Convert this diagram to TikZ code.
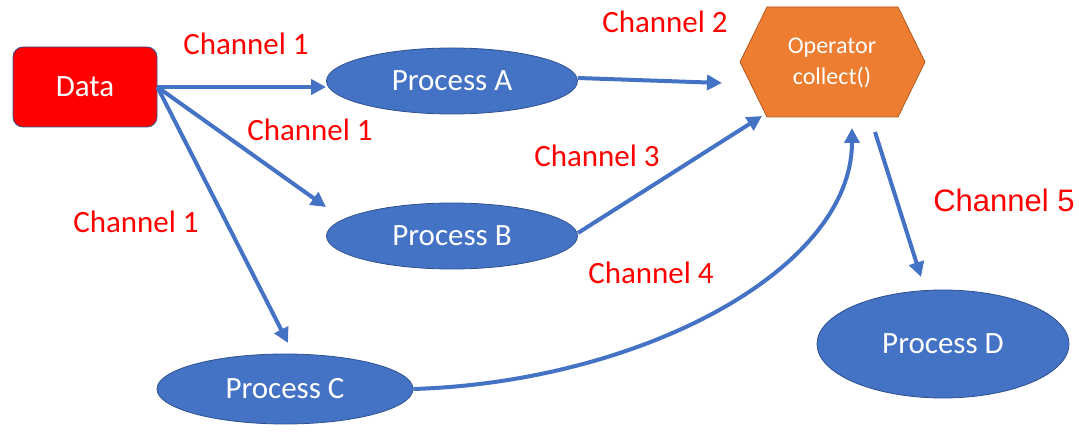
\documentclass[tikz,border=0pt]{standalone}
\usepackage{fontspec}
\setmainfont{Carlito}
\newfontfamily\arialfont{Liberation Sans}
\usetikzlibrary{arrows.meta,shapes.geometric}
\definecolor{flowblue}{HTML}{4472C4}
\definecolor{edgeblue}{HTML}{2F528F}
\definecolor{oporange}{HTML}{ED7D31}
\definecolor{opedge}{HTML}{AE5A21}
\tikzset{
  procnode/.style={ellipse, fill=flowblue, draw=edgeblue, line width=0.8pt,
    minimum width=251pt, minimum height=66pt, inner sep=0pt,
    text=white, font=\fontsize{31}{36}\selectfont},
  flow/.style={draw=flowblue, line width=4pt,
    -{Triangle[length=15pt,width=15pt]}},
  chanlabel/.style={text=red, font=\fontsize{31}{36}\selectfont, inner sep=0pt},
}
\begin{document}
\begin{tikzpicture}[x=1pt,y=-1pt]
\useasboundingbox (0,0) rectangle (1079,438);

% source box
\node[draw=edgeblue, fill=red, line width=0.8pt, rounded corners=10pt,
  minimum width=144pt, minimum height=80pt, inner sep=0pt,
  text=white, font=\fontsize{31}{36}\selectfont] (data) at (85,87) {Data};

% processes
\node[procnode] (pa) at (452,81) {Process A};
\node[procnode] (pb) at (452,236) {Process B};
\node[procnode, minimum width=256pt, minimum height=70pt] (pc) at (285,389) {Process C};
\node[procnode, minimum width=252pt, minimum height=108pt] (pd) at (943,344) {Process D};

% operator hexagon
\filldraw[fill=oporange, draw=opedge, line width=0.8pt]
  (740,62) -- (767,7) -- (898,7) -- (925,62) -- (898,117) -- (767,117) -- cycle;
\node[text=white, align=center, font=\fontsize{24}{31}\selectfont] (op) at (832,63)
  {Operator\\collect()};

% arrow end points around the operator
\coordinate (opa) at (722,83);
\coordinate (opb) at (762,116);
\coordinate (opc) at (852,128);
\coordinate (opd) at (875,132);
\coordinate (dtop) at (921,277);

% connectors
\draw[flow] (data.east) -- (pa.west |- data.east);
\draw[flow] (data.east) -- (326,207);
\draw[flow] (data.east) -- (288,343);
\draw[flow] (pa.east) ++(0,-3) -- (opa);
\draw[flow] (pb.east) ++(0,-3) -- (opb);
\draw[flow] (pc.east) .. controls (640,382) and (852,270) .. (opc);
\draw[flow] (opd) -- (dtop);

% channel labels
\node[chanlabel] (c1a) at (246,44) {Channel 1};
\node[chanlabel] (c1b) at (310,130) {Channel 1};
\node[chanlabel] (c1c) at (136,222) {Channel 1};
\node[chanlabel] (c2) at (665,22) {Channel 2};
\node[chanlabel] (c3) at (597,156) {Channel 3};
\node[chanlabel] (c4) at (651,273) {Channel 4};
\node[chanlabel, font=\arialfont\fontsize{31}{36}\selectfont] (c5) at (1004,200) {Channel 5};
\end{tikzpicture}
\end{document}
